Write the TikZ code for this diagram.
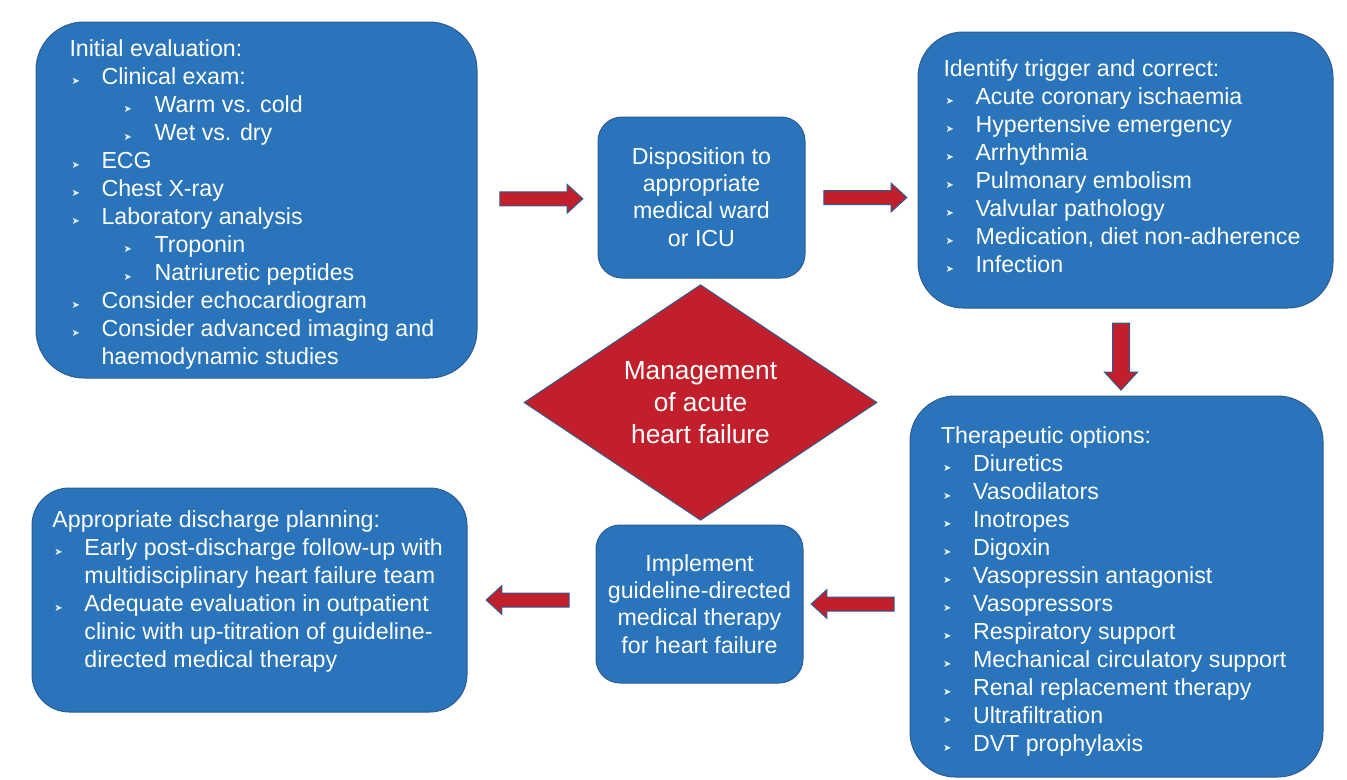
\documentclass[tikz,border=0pt]{standalone}
\usepackage{fontspec}
\setmainfont{Liberation Sans}
\newfontfamily\symfont{DejaVu Sans}
\usetikzlibrary{shapes.geometric,shapes.arrows,fit,calc}

\definecolor{boxblue}{RGB}{41,116,186}
\definecolor{rimblue}{RGB}{47,92,145}
\definecolor{alertred}{RGB}{192,31,43}

% bullets of the lists
\newcommand{\bul}{{\color{white!90!boxblue}\symfont\fontsize{7.5}{7.5}\selectfont ➤}}
\newcommand{\lone}{\hspace*{1.5pt}\makebox[22.5pt][l]{\bul}}
\newcommand{\ltwo}{\hspace*{40.5pt}\makebox[23.25pt][l]{\bul}}
\newcommand{\lcont}{\hspace*{24pt}}

\tikzset{every picture/.style={line width=0.75pt}}
\tikzset{
  stepbox/.style={draw=rimblue, fill=boxblue, inner sep=0pt},
  listtext/.style={anchor=north west, inner sep=0pt, align=left, text=white, font=\fontsize{17.4}{21}\selectfont},
  boxtext/.style={anchor=north, inner sep=0pt, align=center, text=white, font=\fontsize{17.4}{20.5}\selectfont},
  blockarrow/.style={single arrow, draw=rimblue, fill=alertred, inner sep=0pt, text height=9.75pt, text depth=0pt, minimum width=21pt, single arrow head extend=5.6pt, single arrow tip angle=85, minimum height=62.25pt}
}

\begin{document}
\begin{tikzpicture}[x=0.75pt,y=0.75pt,yscale=-1,xscale=1]
\useasboundingbox (0,0) rectangle (1347,779);

%Shape: Rounded Rectangle [initial evaluation]
\node[stepbox, rounded corners=36pt, fit={(36,22) (477,378)}] (init) {};
%Shape: Rounded Rectangle [disposition]
\node[stepbox, rounded corners=18pt, fit={(598,117) (805,278)}] (disp) {};
%Shape: Rounded Rectangle [trigger]
\node[stepbox, rounded corners=34pt, fit={(918,32) (1333,308)}] (trig) {};
%Shape: Rounded Rectangle [therapy]
\node[stepbox, rounded corners=34pt, fit={(910,396) (1323,777)}] (ther) {};
%Shape: Rounded Rectangle [implement]
\node[stepbox, rounded corners=18pt, fit={(596,525) (803,683)}] (impl) {};
%Shape: Rounded Rectangle [discharge]
\node[stepbox, rounded corners=28pt, fit={(32,488) (467,712)}] (disc) {};

%Shape: Diamond
\node[diamond, draw=rimblue, fill=alertred, minimum width=264.75pt, minimum height=164.25pt, inner sep=0pt, text=white, align=center, font=\fontsize{19.7}{24}\selectfont] (mgmt) at (700.5,402.5) {Management\\of acute\\heart failure};

%Block Arrows
\node[blockarrow] (a1) at ($(init.east)!0.5!(disp.west)$) {};
\node[blockarrow] (a2) at ($(disp.east)!0.5!(disp.east -| trig.west)$) {};
\node[blockarrow, rotate=270, minimum height=50.25pt, minimum width=24pt, text height=12pt, single arrow head extend=6pt] (a3) at ($(trig.south)!0.5!(ther.north)$) {};
\node[blockarrow, shape border rotate=180] (a4) at ($(impl.east)!0.5!(impl.east -| ther.west)$) {};
\node[blockarrow, shape border rotate=180] (a5) at ($(disc.east)!0.5!(disc.east -| impl.west)$) {};

% Text Node
\node[boxtext] (disptxt) at (701.5,147) {Disposition to\\appropriate\\medical ward\\or ICU};
% Text Node
\node[boxtext] (impltxt) at (699.5,554) {Implement\\guideline-directed\\medical therapy\\for heart failure};
% Text Node
\node[listtext] (inittxt) at (69,39) {Initial evaluation:\\
\lone Clinical exam:\\
\ltwo Warm vs. cold\\
\ltwo Wet vs. dry\\
\lone ECG\\
\lone Chest X-ray\\
\lone Laboratory analysis\\
\ltwo Troponin\\
\ltwo Natriuretic peptides\\
\lone Consider echocardiogram\\
\lone Consider advanced imaging and\\
\lcont haemodynamic studies};
% Text Node
\node[listtext] (trigtxt) at (943,59) {Identify trigger and correct:\\
\lone Acute coronary ischaemia\\
\lone Hypertensive emergency\\
\lone Arrhythmia\\
\lone Pulmonary embolism\\
\lone Valvular pathology\\
\lone Medication, diet non-adherence\\
\lone Infection};
% Text Node
\node[listtext] (thertxt) at (940.5,426) {Therapeutic options:\\
\lone Diuretics\\
\lone Vasodilators\\
\lone Inotropes\\
\lone Digoxin\\
\lone Vasopressin antagonist\\
\lone Vasopressors\\
\lone Respiratory support\\
\lone Mechanical circulatory support\\
\lone Renal replacement therapy\\
\lone Ultrafiltration\\
\lone DVT prophylaxis};
% Text Node
\node[listtext] (disctxt) at (52,510) {Appropriate discharge planning:\\
\lone Early post-discharge follow-up with\\
\lcont multidisciplinary heart failure team\\
\lone Adequate evaluation in outpatient\\
\lcont clinic with up-titration of guideline-\\
\lcont directed medical therapy};

\end{tikzpicture}
\end{document}
